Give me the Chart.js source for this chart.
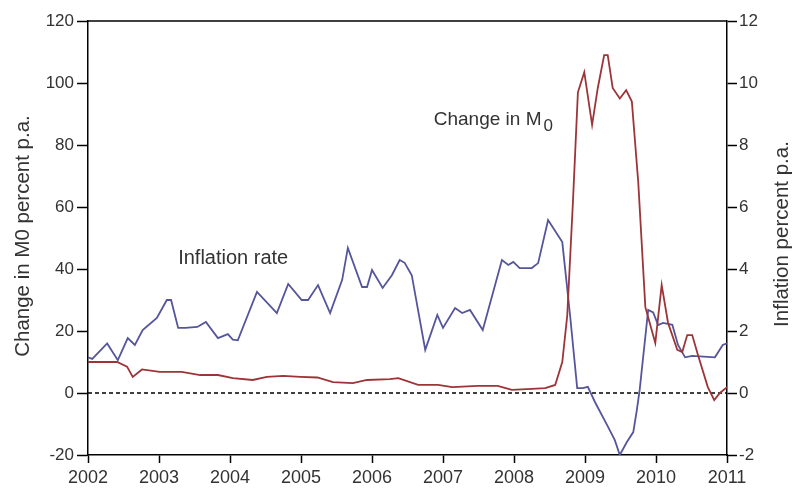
<!DOCTYPE html>
<html>
<head>
<meta charset="utf-8">
<script src="https://cdn.jsdelivr.net/npm/chart.js@4.4.1/dist/chart.umd.min.js"></script>
<style>
  html, body { margin: 0; padding: 0; background: #fff; }
  #wrap { width: 792px; height: 488px; }
</style>
</head>
<body>
<div id="wrap"><canvas id="grafica"></canvas></div>
<script>
// Inflación (eje derecho) y cambio en M0 (eje izquierdo), 2002-2011.

var yearTicks = [2002, 2003, 2004, 2005, 2006, 2007, 2008, 2009, 2010, 2011];

// Inflation rate, percent p.a. (right axis)
var inflYears = [2002.00, 2002.06, 2002.27, 2002.42, 2002.56, 2002.66, 2002.77, 2002.97, 2003.11, 2003.17,
                 2003.27, 2003.37, 2003.54, 2003.66, 2003.83, 2003.97, 2004.04, 2004.11, 2004.38, 2004.66,
                 2004.82, 2005.01, 2005.10, 2005.24, 2005.41, 2005.58, 2005.66, 2005.86, 2005.93, 2006.00,
                 2006.15, 2006.28, 2006.39, 2006.46, 2006.56, 2006.75, 2006.92, 2007.00, 2007.17, 2007.27,
                 2007.38, 2007.56, 2007.83, 2007.92, 2007.99, 2008.08, 2008.25, 2008.34, 2008.48, 2008.68,
                 2008.79, 2008.89, 2008.97, 2009.04, 2009.14, 2009.31, 2009.42, 2009.49, 2009.59, 2009.68,
                 2009.73, 2009.77, 2009.89, 2009.96, 2010.03, 2010.10, 2010.23, 2010.31, 2010.41, 2010.51,
                 2010.83, 2010.94, 2011.00];
var inflValues = [1.15, 1.10, 1.60, 1.06, 1.77, 1.55, 2.03, 2.42, 3.00, 3.00,
                  2.10, 2.10, 2.13, 2.29, 1.77, 1.90, 1.72, 1.70, 3.26, 2.58,
                  3.52, 3.00, 3.00, 3.48, 2.58, 3.65, 4.68, 3.42, 3.42, 3.97,
                  3.39, 3.80, 4.29, 4.20, 3.80, 1.39, 2.52, 2.10, 2.74, 2.58,
                  2.68, 2.03, 4.29, 4.13, 4.23, 4.03, 4.03, 4.19, 5.58, 4.87,
                  2.50, 0.16, 0.16, 0.20, -0.29, -1.03, -1.52, -2.00, -1.58, -1.26,
                  -0.55, 0.10, 2.68, 2.60, 2.19, 2.26, 2.20, 1.55, 1.15, 1.20,
                  1.15, 1.55, 1.60];

// Change in M0, percent p.a. (left axis)
var m0Years = [2002.00, 2002.41, 2002.55, 2002.63, 2002.76, 2003.01, 2003.32, 2003.58, 2003.83, 2004.04,
               2004.32, 2004.52, 2004.75, 2004.99, 2005.23, 2005.45, 2005.73, 2005.93, 2006.25, 2006.37,
               2006.65, 2006.93, 2007.13, 2007.49, 2007.77, 2007.97, 2008.25, 2008.44, 2008.58, 2008.68,
               2008.75, 2008.83, 2008.90, 2008.99, 2009.10, 2009.18, 2009.27, 2009.32, 2009.39, 2009.49,
               2009.58, 2009.66, 2009.75, 2009.85, 2009.99, 2010.08, 2010.17, 2010.30, 2010.37, 2010.44,
               2010.51, 2010.59, 2010.73, 2010.82, 2010.90, 2011.00];
var m0Values = [10.0, 10.0, 8.5, 5.2, 7.6, 6.8, 6.8, 5.8, 5.8, 4.8,
                4.2, 5.2, 5.5, 5.2, 5.0, 3.5, 3.2, 4.2, 4.5, 4.8,
                2.6, 2.6, 1.9, 2.3, 2.3, 1.0, 1.3, 1.6, 2.6, 10.0,
                25.0, 61.6, 97.0, 103.5, 86.5, 98.4, 109.0, 109.0, 98.4, 95.0,
                97.7, 94.0, 68.0, 27.7, 16.1, 34.8, 22.6, 13.9, 13.2, 18.7,
                18.7, 12.3, 1.9, -2.3, 0.0, 1.9];

function toPoints(xs, ys) {
    var pts = [];
    for (var i = 0; i < xs.length; i++) {
        pts.push({ x: xs[i], y: ys[i] });
    }
    return pts;
}

var FONT = '"Liberation Sans", Arial, sans-serif';
var TEXT = '#333333';

// Línea punteada en cero, borde superior, títulos de ejes y rótulos
var extras = {
    id: 'extras',
    beforeDatasetsDraw: function (chart) {
        var ctx = chart.ctx;
        var area = chart.chartArea;
        var y0 = chart.scales.y.getPixelForValue(0);
        ctx.save();
        ctx.strokeStyle = '#000';
        ctx.lineWidth = 1.5;
        ctx.setLineDash([4, 3]);
        ctx.beginPath();
        ctx.moveTo(area.left, y0);
        ctx.lineTo(area.right, y0);
        ctx.stroke();
        ctx.restore();
    },
    afterDraw: function (chart) {
        var ctx = chart.ctx;
        var area = chart.chartArea;
        var sx = chart.scales.x;
        var sy = chart.scales.y;
        ctx.save();
        ctx.strokeStyle = '#000';
        ctx.lineWidth = 1.5;
        ctx.beginPath();
        ctx.moveTo(area.left, area.top);
        ctx.lineTo(area.right, area.top);
        ctx.stroke();

        ctx.fillStyle = TEXT;
        ctx.font = '20.5px ' + FONT;
        ctx.textAlign = 'center';
        ctx.textBaseline = 'middle';

        // títulos de ejes
        ctx.save();
        ctx.translate(23, 236);
        ctx.rotate(-Math.PI / 2);
        ctx.fillText('Change in M0 percent p.a.', 0, 0);
        ctx.restore();

        ctx.save();
        ctx.translate(782, 234);
        ctx.rotate(-Math.PI / 2);
        ctx.fillText('Inflation percent p.a.', 0, 0);
        ctx.restore();

        // rótulos de las series
        ctx.font = '20px ' + FONT;
        ctx.textAlign = 'left';
        ctx.textBaseline = 'alphabetic';
        ctx.fillText('Inflation rate', sx.getPixelForValue(2003.27), sy.getPixelForValue(41.5));

        var lx = sx.getPixelForValue(2006.87);
        var ly = sy.getPixelForValue(86.5);
        ctx.font = '19px ' + FONT;
        ctx.fillText('Change in M', lx, ly);
        var w = ctx.measureText('Change in M').width;
        ctx.font = '17px ' + FONT;
        ctx.fillText('0', lx + w + 2, ly + 6);
        ctx.restore();
    }
};

var context = document.getElementById('grafica').getContext('2d');

var chart = new Chart(context, {
    type: 'line',
    data: {
        datasets: [
            {
                label: 'Change in M0',
                data: toPoints(m0Years, m0Values),
                yAxisID: 'y',
                borderColor: '#9c3438',
                borderWidth: 1.8,
                pointRadius: 0,
                tension: 0,
                order: 1
            },
            {
                label: 'Inflation rate',
                data: toPoints(inflYears, inflValues),
                yAxisID: 'y1',
                borderColor: '#55559c',
                borderWidth: 1.8,
                pointRadius: 0,
                tension: 0,
                order: 2
            }
        ]
    },
    options: {
        responsive: true,
        maintainAspectRatio: false,
        animation: false,
        layout: { padding: { top: 21, left: 0, right: 0, bottom: 0 } },
        plugins: {
            legend: { display: false },
            tooltip: { enabled: false }
        },
        scales: {
            x: {
                type: 'linear',
                min: 2002,
                max: 2011,
                afterBuildTicks: function (scale) {
                    scale.ticks = yearTicks.map(function (v) { return { value: v }; });
                },
                afterFit: function (scale) { scale.height = 33; },
                ticks: {
                    callback: function (v) { return String(v); },
                    color: TEXT,
                    font: { family: FONT, size: 18 },
                    maxRotation: 0,
                    autoSkip: false,
                    padding: 4
                },
                grid: { drawOnChartArea: false, tickLength: 8, color: '#000', tickWidth: 1.5 },
                border: { color: '#000', width: 1.5 }
            },
            y: {
                position: 'left',
                min: -20,
                max: 120,
                afterFit: function (scale) { scale.width = 88; },
                ticks: {
                    stepSize: 20,
                    color: TEXT,
                    font: { family: FONT, size: 17 },
                    padding: 3
                },
                grid: { drawOnChartArea: false, tickLength: 11, color: '#000', tickWidth: 1.5 },
                border: { color: '#000', width: 1.5 }
            },
            y1: {
                position: 'right',
                min: -2,
                max: 12,
                afterFit: function (scale) { scale.width = 65; },
                ticks: {
                    stepSize: 2,
                    color: TEXT,
                    font: { family: FONT, size: 17 },
                    padding: 2
                },
                grid: { drawOnChartArea: false, tickLength: 10, color: '#000', tickWidth: 1.5 },
                border: { color: '#000', width: 1.5 }
            }
        }
    },
    plugins: [extras]
});
</script>
</body>
</html>
